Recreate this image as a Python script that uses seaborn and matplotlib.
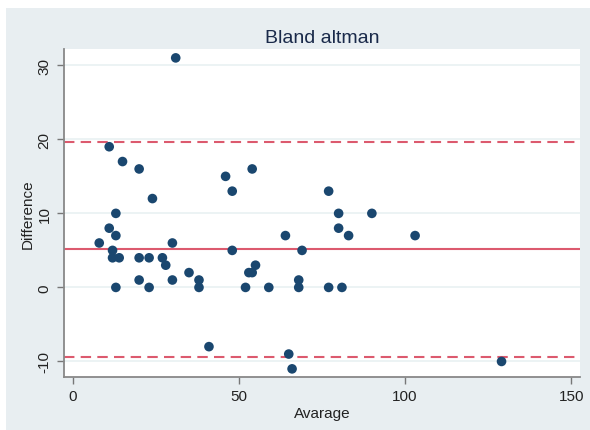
import pandas as pd
import seaborn as sns
import matplotlib.pyplot as plt
from matplotlib.patches import Rectangle

# Data
avarage = [8, 11, 11, 12, 12, 13, 13, 13, 14, 15, 20, 20, 20, 23, 23, 24, 27, 28,
           30, 30, 31, 35, 38, 38, 41, 46, 48, 48, 52, 53, 54, 54, 55, 59, 64,
           65, 66, 68, 68, 69, 77, 77, 80, 80, 81, 83, 90, 103, 129]
difference = [6, 19, 8, 5, 4, 10, 7, 0, 4, 17, 16, 4, 1, 4, 0, 12, 4, 3,
              6, 1, 31, 2, 1, 0, -8, 15, 13, 5, 0, 2, 2, 16, 3, 0, 7,
              -9, -11, 1, 0, 5, 13, 0, 10, 8, 0, 7, 10, 7, -10]
mean_diff = 5.2
upper_loa = 19.6
lower_loa = -9.4

df = pd.DataFrame({"Avarage": avarage, "Difference": difference})

sns.set_style("white")
plt.rcParams['font.family'] = ['Liberation Sans', 'DejaVu Sans']
plt.rcParams['axes.unicode_minus'] = False

fig = plt.figure(figsize=(5.9, 4.31), dpi=100)
fig.patch.set_facecolor("white")
# Stata-like outer background
fig.patches.append(Rectangle((6 / 590, 0), 1, 1 - 9 / 431, transform=fig.transFigure,
                             facecolor="#e8eef1", edgecolor="none", zorder=-10))
ax = fig.add_axes([64 / 590, 1 - 378 / 431, 516 / 590, 328 / 431])
ax.set_facecolor("white")

red = "#dc5a6e"
for y in [-10, 0, 10, 20, 30]:
    ax.axhline(y, color="#eaf2f3", lw=1.3, zorder=0)
ax.axhline(mean_diff, color=red, lw=1.5, zorder=1)
ax.axhline(upper_loa, color=red, lw=1.5, ls=(0, (5, 3)), zorder=1)
ax.axhline(lower_loa, color=red, lw=1.5, ls=(0, (5, 3)), zorder=1)

sns.scatterplot(data=df, x="Avarage", y="Difference", ax=ax, color="#1a476f",
                s=48, edgecolor="none", zorder=3, clip_on=False)

ax.set_xlim(-2.6, 152.6)
ax.set_ylim(-12.1, 32.2)
ax.set_xticks([0, 50, 100, 150])
ax.set_yticks([-10, 0, 10, 20, 30])
for lbl in ax.get_yticklabels():
    lbl.set_rotation(90)
    lbl.set_va("center")
ax.tick_params(axis="both", direction="out", length=5, width=1, color="#777777",
               labelsize=11, labelcolor="#222222", pad=4)
ax.tick_params(left=True, bottom=True)

for side in ["top", "right"]:
    ax.spines[side].set_visible(False)
for side in ["left", "bottom"]:
    ax.spines[side].set_color("#888888")
    ax.spines[side].set_linewidth(1.3)

ax.set_xlabel("Avarage", fontsize=11, color="#222222", labelpad=2)
ax.set_ylabel("Difference", fontsize=11, color="#222222", labelpad=2)
ax.set_title("Bland altman", fontsize=14, color="#1a2a4a", pad=5)

fig.savefig("out.png", dpi=100)
